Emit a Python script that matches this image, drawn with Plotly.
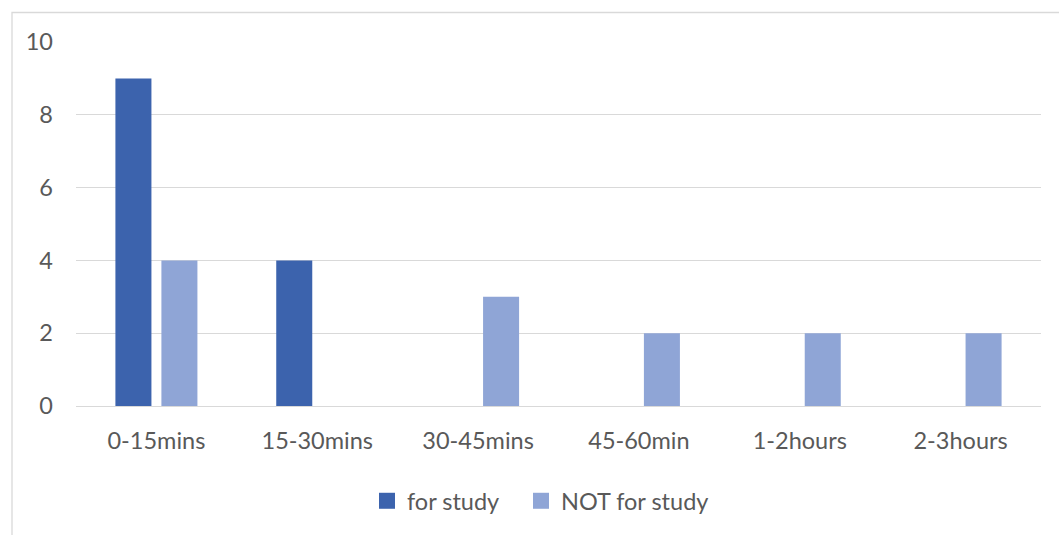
import plotly.graph_objects as go

categories = ["0-15mins", "15-30mins", "30-45mins", "45-60min", "1-2hours", "2-3hours"]
for_study = [9, 4, 0, 0, 0, 0]
not_for_study = [4, 0, 3, 2, 2, 2]
y_ticks = [0, 2, 4, 6, 8, 10]
series_names = ["for study", "NOT for study"]
series_colors = ["#3C63AD", "#8FA5D6"]

W, H = 1059, 535
L, R, T, B = 76, 18, 42, 129
pw = W - L - R
ph = H - T - B

font_family = "Lato, 'Open Sans', sans-serif"
txt = "#595959"
fs = 23.5

fig = go.Figure()
for name, vals, col in zip(series_names, [for_study, not_for_study], series_colors):
    fig.add_trace(go.Bar(x=categories, y=vals, name=name, showlegend=False,
                         marker=dict(color=col, line=dict(width=0))))
legend_ids = ["legend", "legend2"]
for name, col, lid in zip(series_names, series_colors, legend_ids):
    fig.add_trace(go.Scatter(x=[None], y=[None], name=name, mode="markers", legend=lid,
                             marker=dict(symbol="square", size=16, color=col), hoverinfo="skip"))

leg_common = dict(orientation="h", xanchor="left", y=(406 - 501) / ph, yanchor="middle",
                  font=dict(size=fs, color=txt), itemsizing="trace", bgcolor="rgba(0,0,0,0)")

fig.update_layout(
    width=W, height=H,
    margin=dict(l=L, r=R, t=T, b=B, autoexpand=False),
    paper_bgcolor="white", plot_bgcolor="white",
    barmode="group", bargap=0.428, bargroupgap=0.217,
    font=dict(family=font_family, size=fs, color=txt),
    showlegend=True,
    legend=dict(x=(367 - L) / pw, **leg_common),
    legend2=dict(x=(521 - L) / pw, **leg_common),
    xaxis=dict(showgrid=False, showline=False, ticks="", tickfont=dict(size=fs, color=txt),
               ticklabelstandoff=18),
    yaxis=dict(range=[0, 10], tickvals=y_ticks, showgrid=True, gridcolor="#D9D9D9", gridwidth=1,
               zeroline=True, zerolinecolor="#D9D9D9", zerolinewidth=1, showline=False,
               ticks="", tickfont=dict(size=fs, color=txt), ticklabelstandoff=22),
    shapes=[dict(type="rect", xref="paper", yref="paper",
                 x0=(12 - L) / pw, x1=(W + 5 - L) / pw,
                 y0=-(H + 5 - (H - B)) / ph, y1=((H - B) - 12.5) / ph,
                 line=dict(color="#D9D9D9", width=1.3), fillcolor="rgba(0,0,0,0)", layer="below")],
)

fig.write_html("out.html", config={"displayModeBar": False},
               post_script="document.body.style.margin='0';")
